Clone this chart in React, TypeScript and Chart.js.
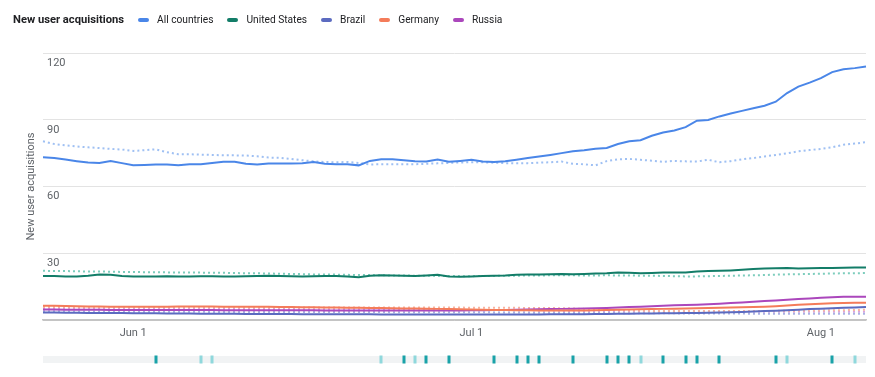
import React, { useEffect, useRef } from 'react';
import { Chart, registerables } from 'chart.js';

Chart.register(...registerables);

const dates = [
  'May 24', 'May 25', 'May 26', 'May 27', 'May 28', 'May 29', 'May 30', 'May 31',
  'Jun 1', 'Jun 2', 'Jun 3', 'Jun 4', 'Jun 5', 'Jun 6', 'Jun 7', 'Jun 8', 'Jun 9', 'Jun 10',
  'Jun 11', 'Jun 12', 'Jun 13', 'Jun 14', 'Jun 15', 'Jun 16', 'Jun 17', 'Jun 18', 'Jun 19', 'Jun 20',
  'Jun 21', 'Jun 22', 'Jun 23', 'Jun 24', 'Jun 25', 'Jun 26', 'Jun 27', 'Jun 28', 'Jun 29', 'Jun 30',
  'Jul 1', 'Jul 2', 'Jul 3', 'Jul 4', 'Jul 5', 'Jul 6', 'Jul 7', 'Jul 8', 'Jul 9', 'Jul 10',
  'Jul 11', 'Jul 12', 'Jul 13', 'Jul 14', 'Jul 15', 'Jul 16', 'Jul 17', 'Jul 18', 'Jul 19', 'Jul 20',
  'Jul 21', 'Jul 22', 'Jul 23', 'Jul 24', 'Jul 25', 'Jul 26', 'Jul 27', 'Jul 28', 'Jul 29', 'Jul 30',
  'Jul 31', 'Aug 1', 'Aug 2', 'Aug 3', 'Aug 4', 'Aug 5',
];

const tickDates = ['Jun 1', 'Jul 1', 'Aug 1'];
const yTicks = [0, 30, 60, 90, 120];

const allCountries = [
  73.1, 72.8, 72.1, 71.4, 70.8, 70.6, 71.5, 70.5, 69.6, 69.7,
  69.9, 69.9, 69.6, 70.0, 70.0, 70.6, 71.1, 71.1, 70.2, 69.9,
  70.3, 70.3, 70.3, 70.5, 71.0, 70.2, 70.0, 70.0, 69.5, 71.5,
  72.2, 72.2, 71.8, 71.4, 71.2, 72.1, 71.1, 71.5, 72.0, 71.2,
  71.0, 71.3, 72.0, 72.8, 73.5, 74.2, 75.0, 75.8, 76.3, 77.0,
  77.3, 79.1, 80.3, 80.8, 82.8, 84.3, 85.2, 86.7, 89.6, 89.9,
  91.5, 92.8, 94.0, 95.2, 96.3, 98.1, 102.0, 104.9, 106.7, 108.7,
  111.4, 112.7, 113.2, 113.9,
];
const allCountriesPrev = [
  80.3, 79.1, 78.5, 78.0, 77.6, 77.3, 76.9, 76.6, 76.0, 76.3,
  76.7, 75.4, 74.5, 74.5, 74.3, 74.2, 74.0, 74.0, 73.9, 73.6,
  73.0, 72.9, 72.4, 71.8, 71.3, 71.0, 70.9, 71.0, 70.6, 69.9,
  70.0, 70.0, 70.0, 70.0, 70.2, 70.4, 70.6, 70.8, 70.9, 70.9,
  70.7, 70.5, 70.4, 70.5, 70.7, 70.9, 71.2, 70.2, 70.0, 69.5,
  71.4, 72.2, 72.4, 72.0, 71.6, 71.1, 71.5, 71.3, 71.2, 72.0,
  70.9, 71.4, 72.2, 72.8, 73.5, 74.2, 74.9, 75.8, 76.4, 76.9,
  77.6, 78.8, 79.3, 79.9,
];
const unitedStates = [
  19.8, 19.8, 19.6, 19.5, 19.9, 20.5, 20.3, 19.8, 19.6, 19.5,
  19.6, 19.7, 19.5, 19.6, 19.7, 19.7, 19.6, 19.6, 19.7, 19.8,
  19.9, 19.8, 19.7, 19.6, 19.7, 19.8, 19.8, 19.5, 19.2, 19.9,
  20.1, 20.0, 19.9, 19.8, 20.0, 20.3, 19.6, 19.4, 19.6, 19.8,
  19.9, 20.0, 20.3, 20.4, 20.5, 20.6, 20.7, 20.6, 20.7, 20.9,
  21.0, 21.3, 21.2, 21.0, 21.1, 21.3, 21.4, 21.3, 21.8, 22.0,
  22.1, 22.3, 22.6, 22.9, 23.2, 23.3, 23.4, 23.2, 23.3, 23.4,
  23.4, 23.5, 23.6, 23.6,
];
const unitedStatesPrev = [
  22.1, 22.0, 22.0, 21.9, 21.8, 21.8, 21.7, 21.6, 21.6, 21.5,
  21.5, 21.4, 21.4, 21.3, 21.3, 21.2, 21.2, 21.1, 21.0, 21.0,
  20.9, 20.8, 20.7, 20.6, 20.5, 20.5, 20.4, 20.3, 20.2, 20.2,
  20.1, 20.0, 20.0, 19.9, 19.9, 19.8, 19.8, 19.7, 19.7, 19.8,
  19.8, 19.9, 19.9, 20.0, 20.0, 20.1, 20.1, 20.1, 20.0, 20.0,
  20.1, 20.0, 20.0, 19.9, 19.9, 19.8, 19.7, 19.6, 19.6, 19.7,
  19.8, 19.9, 20.0, 20.1, 20.2, 20.4, 20.5, 20.6, 20.7, 20.8,
  20.9, 21.0, 21.0, 21.1,
];
const brazil = [
  3.4, 3.4, 3.3, 3.3, 3.2, 3.2, 3.1, 3.1, 3.0, 3.0,
  3.0, 2.9, 2.9, 2.9, 2.8, 2.8, 2.8, 2.8, 2.7, 2.7,
  2.7, 2.7, 2.7, 2.6, 2.6, 2.6, 2.6, 2.6, 2.6, 2.6,
  2.5, 2.5, 2.5, 2.5, 2.5, 2.5, 2.5, 2.5, 2.5, 2.5,
  2.5, 2.5, 2.5, 2.5, 2.5, 2.6, 2.6, 2.6, 2.6, 2.7,
  2.7, 2.8, 2.8, 2.9, 2.9, 3.0, 3.0, 3.1, 3.2, 3.3,
  3.4, 3.5, 3.6, 3.8, 4.0, 4.2, 4.4, 4.6, 4.9, 5.1,
  5.3, 5.5, 5.6, 5.8,
];
const brazilPrev = [
  3.9, 3.9, 3.9, 3.8, 3.8, 3.8, 3.8, 3.8, 3.7, 3.7,
  3.7, 3.7, 3.7, 3.7, 3.7, 3.6, 3.6, 3.6, 3.6, 3.6,
  3.6, 3.6, 3.6, 3.6, 3.6, 3.6, 3.6, 3.6, 3.6, 3.6,
  3.6, 3.5, 3.5, 3.5, 3.5, 3.5, 3.5, 3.5, 3.5, 3.5,
  3.4, 3.4, 3.4, 3.3, 3.3, 3.3, 3.2, 3.2, 3.2, 3.1,
  3.1, 3.1, 3.0, 3.0, 3.0, 3.0, 3.0, 2.9, 2.9, 2.9,
  2.9, 2.9, 2.9, 2.8, 2.8, 2.8, 2.8, 2.8, 2.8, 2.8,
  2.8, 2.8, 2.8, 2.8,
];
const germany = [
  6.4, 6.4, 6.3, 6.2, 6.1, 6.1, 6.0, 6.0, 6.0, 6.0,
  6.0, 6.0, 6.1, 6.1, 6.1, 6.1, 6.0, 6.0, 5.9, 5.9,
  5.9, 5.8, 5.8, 5.7, 5.7, 5.6, 5.6, 5.5, 5.5, 5.4,
  5.4, 5.3, 5.2, 5.2, 5.1, 5.0, 4.9, 4.8, 4.7, 4.6,
  4.5, 4.5, 4.4, 4.4, 4.3, 4.3, 4.3, 4.3, 4.3, 4.4,
  4.5, 4.6, 4.7, 4.8, 4.9, 5.0, 5.1, 5.2, 5.3, 5.4,
  5.5, 5.6, 5.7, 5.8, 6.0, 6.2, 6.5, 6.8, 7.1, 7.3,
  7.5, 7.6, 7.7, 7.8,
];
const germanyPrev = [
  5.8, 5.8, 5.8, 5.7, 5.7, 5.7, 5.7, 5.7, 5.7, 5.7,
  5.7, 5.7, 5.7, 5.7, 5.7, 5.7, 5.7, 5.7, 5.6, 5.6,
  5.6, 5.6, 5.6, 5.6, 5.6, 5.6, 5.6, 5.6, 5.6, 5.6,
  5.6, 5.6, 5.6, 5.6, 5.6, 5.6, 5.6, 5.6, 5.5, 5.5,
  5.5, 5.5, 5.5, 5.4, 5.4, 5.4, 5.3, 5.2, 5.0, 4.8,
  4.6, 4.4, 4.3, 4.2, 4.1, 4.0, 4.0, 4.0, 4.0, 4.0,
  4.0, 4.0, 4.0, 4.0, 4.1, 4.1, 4.2, 4.2, 4.3, 4.3,
  4.4, 4.4, 4.5, 4.6,
];
const russia = [
  4.7, 4.7, 4.6, 4.6, 4.6, 4.6, 4.5, 4.5, 4.5, 4.5,
  4.5, 4.5, 4.5, 4.5, 4.5, 4.5, 4.4, 4.4, 4.4, 4.4,
  4.4, 4.4, 4.4, 4.4, 4.4, 4.3, 4.3, 4.3, 4.3, 4.3,
  4.3, 4.3, 4.3, 4.3, 4.3, 4.3, 4.3, 4.3, 4.4, 4.4,
  4.5, 4.5, 4.6, 4.7, 4.8, 4.9, 5.0, 5.1, 5.2, 5.3,
  5.4, 5.6, 5.8, 6.0, 6.2, 6.4, 6.6, 6.7, 6.9, 7.1,
  7.3, 7.6, 7.9, 8.2, 8.5, 8.8, 9.1, 9.4, 9.7, 10.0,
  10.2, 10.4, 10.5, 10.5,
];
const russiaPrev = [
  5.1, 5.1, 5.1, 5.0, 5.0, 5.0, 5.0, 5.0, 5.0, 5.0,
  5.0, 5.0, 5.0, 5.0, 5.0, 5.0, 4.9, 4.9, 4.9, 4.9,
  4.9, 4.9, 4.9, 4.9, 4.8, 4.8, 4.8, 4.8, 4.8, 4.8,
  4.7, 4.7, 4.7, 4.7, 4.6, 4.6, 4.6, 4.5, 4.5, 4.5,
  4.4, 4.4, 4.3, 4.3, 4.2, 4.2, 4.1, 4.1, 4.0, 4.0,
  3.9, 3.9, 3.8, 3.8, 3.8, 3.7, 3.7, 3.7, 3.7, 3.7,
  3.7, 3.7, 3.7, 3.7, 3.7, 3.7, 3.7, 3.7, 3.7, 3.7,
  3.7, 3.7, 3.7, 3.7,
];

const annotationsStrong = [
  'Jun 3', 'Jun 25', 'Jun 27', 'Jun 29', 'Jul 3', 'Jul 5', 'Jul 6', 'Jul 7', 'Jul 10',
  'Jul 13', 'Jul 14', 'Jul 15', 'Jul 18', 'Jul 20', 'Jul 21', 'Jul 23', 'Jul 28', 'Aug 2',
];
const annotationsLight = ['Jun 7', 'Jun 8', 'Jun 23', 'Jun 26', 'Jul 16', 'Jul 29', 'Aug 4'];

const seriesNames = ['All countries', 'United States', 'Brazil', 'Germany', 'Russia'];
const seriesColors = ['#4a86e8', '#137d68', '#5c6bc0', '#f47c5a', '#ab47bc'];
const prevColors = ['#9fc0f3', '#7dcdbd', '#aab2e3', '#f8b5a1', '#d8a3e0'];
const currentValues = [allCountries, unitedStates, brazil, germany, russia];
const previousValues = [allCountriesPrev, unitedStatesPrev, brazilPrev, germanyPrev, russiaPrev];

const FONT = 'Roboto, "Noto Sans", Arial, sans-serif';

const stripPlugin = {
  id: 'annotationStrip',
  afterDraw(chart: any) {
    const { ctx, chartArea, scales } = chart;
    const xs = scales.x;
    const top = chartArea.bottom + 36;
    ctx.save();
    ctx.fillStyle = '#f1f3f4';
    ctx.fillRect(chartArea.left, top, chartArea.right - chartArea.left, 7);
    const drawMarks = (list: string[], color: string) => {
      ctx.fillStyle = color;
      list.forEach((d) => {
        const idx = dates.indexOf(d);
        if (idx < 0) return;
        const px = xs.getPixelForValue(idx);
        ctx.fillRect(Math.round(px) - 1.5, top - 0.5, 3, 8);
      });
    };
    drawMarks(annotationsLight, '#8fd8dc');
    drawMarks(annotationsStrong, '#19a2a8');
    ctx.restore();
  },
};

export default function App() {
  const canvasRef = useRef<HTMLCanvasElement | null>(null);

  useEffect(() => {
    if (!canvasRef.current) return;
    const datasets: any[] = [];
    currentValues.forEach((vals, i) => {
      datasets.push({
        label: seriesNames[i],
        data: vals,
        borderColor: seriesColors[i],
        backgroundColor: seriesColors[i],
        borderWidth: 2,
        pointRadius: 0,
        tension: 0,
        fill: false,
      });
    });
    previousValues.forEach((vals, i) => {
      datasets.push({
        label: seriesNames[i] + ' (previous period)',
        data: vals,
        borderColor: prevColors[i],
        backgroundColor: prevColors[i],
        borderWidth: 2,
        borderDash: [2, 3],
        pointRadius: 0,
        tension: 0,
        fill: false,
      });
    });

    const chart = new Chart(canvasRef.current, {
      type: 'line',
      data: { labels: dates, datasets },
      plugins: [stripPlugin],
      options: {
        animation: false,
        responsive: false,
        maintainAspectRatio: false,
        layout: { padding: { top: 53, right: 9, bottom: 0, left: 0 } },
        plugins: { legend: { display: false }, tooltip: { enabled: false } },
        scales: {
          x: {
            type: 'category',
            offset: false,
            grid: { display: false, drawTicks: false },
            border: { display: true, color: '#c4c4c4', width: 1.5 },
            ticks: {
              autoSkip: false,
              maxRotation: 0,
              padding: 7,
              color: '#5f6368',
              font: { family: FONT, size: 11 },
              callback: (_v: any, i: number) => (tickDates.includes(dates[i]) ? dates[i] : ''),
            },
            afterFit: (scale: any) => {
              scale.height = 57;
            },
          },
          y: {
            min: 0,
            max: 120,
            afterBuildTicks: (scale: any) => {
              scale.ticks = yTicks.map((v) => ({ value: v }));
            },
            grid: {
              drawTicks: false,
              color: (c: any) => (c.tick && c.tick.value === 0 ? '#c4c4c4' : '#e3e3e3'),
              lineWidth: 1,
            },
            border: { display: false },
            ticks: {
              mirror: true,
              padding: 4,
              labelOffset: 10,
              color: '#5f6368',
              font: { family: FONT, size: 11 },
              callback: (v: any) => (v === 0 ? '' : String(v)),
            },
            title: {
              display: true,
              text: 'New user acquisitions',
              color: '#5f6368',
              font: { family: FONT, size: 11 },
              padding: { top: 25, bottom: 0 },
            },
            afterFit: (scale: any) => {
              scale.width = 43;
            },
          },
        },
      },
    });
    return () => chart.destroy();
  }, []);

  return (
    <div style={{ position: 'fixed', left: 0, top: 0, width: 875, height: 377, background: '#fff', fontFamily: FONT }}>
      <canvas ref={canvasRef} width={875} height={377} style={{ position: 'absolute', left: 0, top: 0 }} />
      <div
        style={{
          position: 'absolute',
          left: 13,
          top: 10,
          height: 19,
          display: 'flex',
          alignItems: 'center',
          fontSize: 10.2,
          color: '#202124',
          whiteSpace: 'nowrap',
        }}
      >
        <span style={{ fontWeight: 700, fontSize: 11.2, marginRight: 14 }}>New user acquisitions</span>
        {seriesNames.map((name, i) => (
          <span key={name} style={{ display: 'inline-flex', alignItems: 'center', marginRight: 14 }}>
            <span
              style={{
                display: 'inline-block',
                width: 11,
                height: 4,
                borderRadius: 2,
                background: seriesColors[i],
                marginRight: 8,
              }}
            />
            <span>{name}</span>
          </span>
        ))}
      </div>
    </div>
  );
}
